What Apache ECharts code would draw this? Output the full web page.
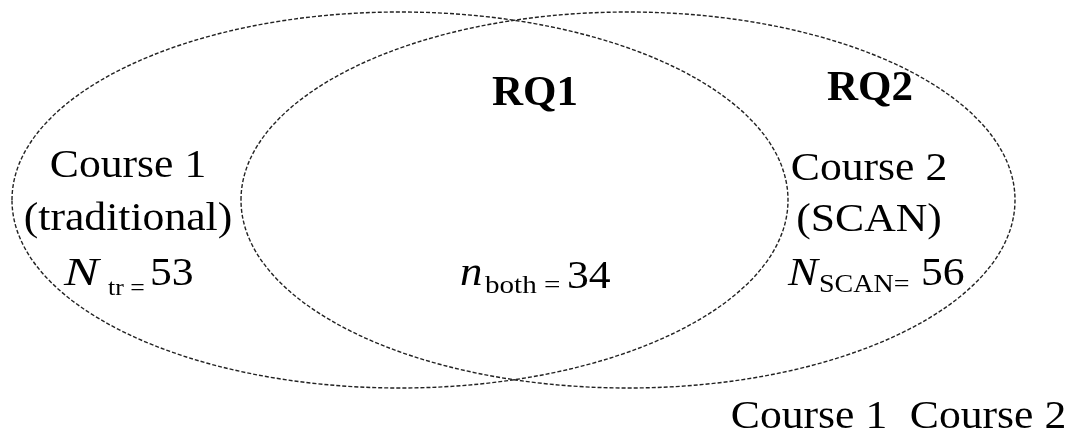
<!DOCTYPE html>
<html>
<head>
<meta charset="utf-8">
<script src="https://cdn.jsdelivr.net/npm/echarts@6/dist/echarts.min.js"></script>
<style>
html,body{margin:0;padding:0;background:#fff;}
#chart{width:1075px;height:436px;}
</style>
</head>
<body>
<div id="chart"></div>
<script>
// ---- data ----
const sets = ['Course 1', 'Course 2'];
const setNotes = ['(traditional)', '(SCAN)'];
const setSymbols = ['tr', 'SCAN'];
const setSizes = [53, 56];
const overlapSymbol = 'both';
const overlapSize = 34;
const researchQuestions = ['RQ1', 'RQ2'];
const footerLabels = ['Course 1', 'Course 2'];

// ---- layout (axis units = pixels of the figure) ----
const ELLIPSES = [
  { cx: 400, cy: 200, rx: 388, ry: 188 },
  { cx: 628, cy: 200, rx: 387, ry: 188 }
];
const SERIF = '"Liberation Serif", "Times New Roman", serif';
const REG = 39, SX = 1.12, BOLD = 43;
const INK = '#000';

const chart = echarts.init(document.getElementById('chart'));

function txt(text, x, baseline, opts) {
  opts = opts || {};
  const fs = opts.size || REG;
  return {
    type: 'text',
    x: x, y: baseline - 0.305 * fs,
    scaleX: opts.scaleX == null ? SX : opts.scaleX,
    style: {
      text: text,
      font: (opts.style || 'normal') + ' ' + (opts.weight || 'normal') + ' ' + fs + 'px ' + SERIF,
      fill: INK,
      textAlign: opts.align || 'center',
      textVerticalAlign: 'middle'
    }
  };
}

// symbol (italic), subscript and value, each placed from its left edge
function countLabel(sym, sub, value, pos) {
  return [
    txt(sym, pos.sym, pos.base, { size: 40, style: 'italic', align: 'left', scaleX: pos.symScale }),
    txt(sub, pos.sub, pos.subBase, { size: pos.subSize, align: 'left' }),
    txt(String(value), pos.val, pos.valBase, { align: 'left' })
  ];
}

const graphics = [];
// research question headings
graphics.push(txt(researchQuestions[0], 535, 107, { size: BOLD, weight: 'bold', scaleX: 1 }));
graphics.push(txt(researchQuestions[1], 870, 102, { size: BOLD, weight: 'bold', scaleX: 1 }));
// set names and notes
graphics.push(txt(sets[0], 128, 179));
graphics.push(txt(setNotes[0], 128, 232));
graphics.push(txt(sets[1], 869, 182));
graphics.push(txt(setNotes[1], 869, 233));
// counts
countLabel('N', setSymbols[0] + ' =', setSizes[0],
  { sym: 64, symScale: 1.3, sub: 108, val: 150, base: 287, subBase: 296, valBase: 287, subSize: 23 })
  .forEach(function (g) { graphics.push(g); });
countLabel('n', overlapSymbol + ' =', overlapSize,
  { sym: 460, symScale: 1.12, sub: 485, val: 567, base: 287, subBase: 294, valBase: 290, subSize: 26 })
  .forEach(function (g) { graphics.push(g); });
countLabel('N', setSymbols[1] + '=', setSizes[1],
  { sym: 788, symScale: 1.12, sub: 819, val: 921, base: 287, subBase: 293, valBase: 287, subSize: 25 })
  .forEach(function (g) { graphics.push(g); });
// footer
graphics.push(txt(footerLabels[0], 809, 430));
graphics.push(txt(footerLabels[1], 988, 430));

chart.setOption({
  animation: false,
  backgroundColor: '#fff',
  grid: { left: 0, right: 0, top: 0, bottom: 0 },
  xAxis: { type: 'value', min: 0, max: 1075, show: false },
  yAxis: { type: 'value', min: 0, max: 436, inverse: true, show: false },
  series: [{
    type: 'custom',
    coordinateSystem: 'cartesian2d',
    data: sets.map(function (s, i) { return { name: s, value: [i] }; }),
    renderItem: function (params, api) {
      const e = ELLIPSES[api.value(0)];
      const c = api.coord([e.cx, e.cy]);
      const s = api.size([e.rx, e.ry]);
      return {
        type: 'ellipse',
        shape: { cx: c[0], cy: c[1], rx: s[0], ry: s[1] },
        style: { fill: 'none', stroke: '#222', lineWidth: 1.4, lineDash: [4, 2] },
        silent: true
      };
    }
  }],
  graphic: graphics
});
</script>
</body>
</html>
